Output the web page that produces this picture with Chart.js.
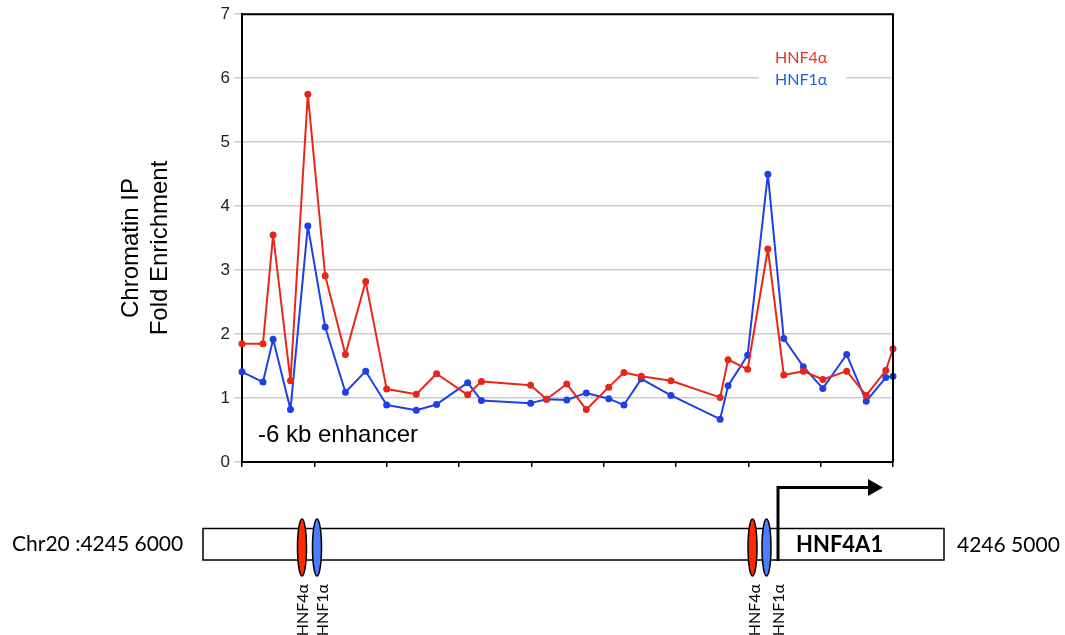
<!DOCTYPE html>
<html>
<head>
<meta charset="utf-8">
<script src="https://cdn.jsdelivr.net/npm/chart.js@4/dist/chart.umd.min.js"></script>
<style>
  html, body { margin: 0; padding: 0; background: #fff; }
  #wrap { width: 1065px; height: 635px; }
</style>
</head>
<body>
<div id="wrap"><canvas id="chipChart" width="1065" height="635"></canvas></div>
<script>
// amplicon positions along the scanned region (axis units, one tick per unit)
const positions = [0, 0.29, 0.43, 0.67, 0.91, 1.15, 1.43, 1.71, 2.0, 2.41, 2.69, 3.12, 3.31, 3.99, 4.21, 4.49,
                   4.76, 5.07, 5.28, 5.52, 5.93, 6.61, 6.72, 6.99, 7.27, 7.49, 7.76, 8.03, 8.36, 8.63, 8.90, 9.0];
// fold enrichment, HNF4alpha ChIP
const hnf4a = [1.85, 1.85, 3.55, 1.27, 5.75, 2.91, 1.68, 2.82, 1.14, 1.06, 1.38, 1.05, 1.26, 1.20, 0.98, 1.22,
               0.82, 1.17, 1.40, 1.34, 1.27, 1.01, 1.60, 1.45, 3.33, 1.36, 1.42, 1.29, 1.42, 1.04, 1.43, 1.77];
// fold enrichment, HNF1alpha ChIP
const hnf1a = [1.41, 1.25, 1.92, 0.82, 3.69, 2.11, 1.09, 1.42, 0.89, 0.81, 0.90, 1.24, 0.96, 0.92, 0.98, 0.97,
               1.08, 0.99, 0.89, 1.30, 1.04, 0.67, 1.19, 1.67, 4.50, 1.93, 1.49, 1.15, 1.68, 0.95, 1.32, 1.34];
const yMin = 0, yMax = 7;
const xTicks = [0, 1, 2, 3, 4, 5, 6, 7, 8, 9];

const RED = '#e8261a';
const BLUE = '#1f40e6';

function toPoints(vals) {
    return vals.map((v, i) => ({ x: positions[i], y: v }));
}

// extra drawing: frame, legend, titles and the locus diagram underneath
const decor = {
    id: 'decor',
    beforeDatasetsDraw(chart) {
        const ctx = chart.ctx;
        const y6 = chart.scales.y.getPixelForValue(6);
        ctx.save();
        ctx.fillStyle = '#fff';
        ctx.fillRect(759, y6 - 4, 87, 8);
        ctx.restore();
    },
    afterDraw(chart) {
        const ctx = chart.ctx;
        const a = chart.chartArea;
        ctx.save();

        // top and right frame
        ctx.strokeStyle = '#000';
        ctx.lineWidth = 2;
        ctx.beginPath();
        ctx.moveTo(a.left, a.top);
        ctx.lineTo(a.right, a.top);
        ctx.lineTo(a.right, a.bottom);
        ctx.stroke();

        // legend
        ctx.font = '16px Lato';
        ctx.textAlign = 'left';
        ctx.textBaseline = 'alphabetic';
        ctx.fillStyle = '#e8321e';
        ctx.fillText('HNF4\u03b1', 775, 63);
        ctx.fillStyle = '#1e5ee8';
        ctx.fillText('HNF1\u03b1', 775, 85);

        // enhancer label
        ctx.fillStyle = '#000';
        ctx.font = '24px "Liberation Sans"';
        ctx.fillText('-6 kb enhancer', 258, 442);

        // y axis title
        ctx.save();
        ctx.translate(138, 248);
        ctx.rotate(-Math.PI / 2);
        ctx.textAlign = 'center';
        ctx.fillText('Chromatin IP', 0, 0);
        ctx.restore();
        ctx.save();
        ctx.translate(167, 248);
        ctx.rotate(-Math.PI / 2);
        ctx.textAlign = 'center';
        ctx.fillText('Fold Enrichment', 0, 0);
        ctx.restore();

        // locus diagram
        ctx.fillStyle = '#fff';
        ctx.fillRect(203, 528.5, 741, 31.5);
        ctx.strokeStyle = '#000';
        ctx.lineWidth = 1.5;
        ctx.strokeRect(203, 528.5, 741, 31.5);

        const sites = [
            { x: 302, fill: '#ff2a00', label: 'HNF4\u03b1', lx: 308 },
            { x: 317, fill: '#4d7cff', label: 'HNF1\u03b1', lx: 328 },
            { x: 752.5, fill: '#ff2a00', label: 'HNF4\u03b1', lx: 760 },
            { x: 766.5, fill: '#4d7cff', label: 'HNF1\u03b1', lx: 784 }
        ];
        sites.forEach(s => {
            ctx.beginPath();
            ctx.ellipse(s.x, 547.5, 4.5, 28.5, 0, 0, Math.PI * 2);
            ctx.fillStyle = s.fill;
            ctx.fill();
            ctx.lineWidth = 1.5;
            ctx.strokeStyle = '#000';
            ctx.stroke();

            ctx.save();
            ctx.translate(s.lx, 584);
            ctx.rotate(-Math.PI / 2);
            ctx.font = '16px Lato';
            ctx.fillStyle = '#000';
            ctx.textAlign = 'right';
            ctx.fillText(s.label, 0, 0);
            ctx.restore();
        });

        // transcription start arrow
        ctx.strokeStyle = '#000';
        ctx.lineWidth = 3;
        ctx.beginPath();
        ctx.moveTo(778, 561);
        ctx.lineTo(778, 487.5);
        ctx.lineTo(870, 487.5);
        ctx.stroke();
        ctx.fillStyle = '#000';
        ctx.beginPath();
        ctx.moveTo(868, 479);
        ctx.lineTo(883, 487.5);
        ctx.lineTo(868, 496);
        ctx.closePath();
        ctx.fill();

        ctx.fillStyle = '#000';
        ctx.textAlign = 'left';
        ctx.font = '21px Lato';
        ctx.fillText('Chr20 :4245 6000', 12, 551);
        ctx.fillText('4246 5000', 957, 552);
        ctx.font = 'bold 22px Lato';
        ctx.fillText('HNF4A1', 796, 552);

        ctx.restore();
    }
};

const ctx = document.getElementById('chipChart').getContext('2d');
new Chart(ctx, {
    type: 'line',
    data: {
        datasets: [{
            label: 'HNF4\u03b1',
            data: toPoints(hnf4a),
            borderColor: RED,
            backgroundColor: RED,
            borderWidth: 2,
            borderJoinStyle: 'round',
            pointRadius: 2.5,
            pointHoverRadius: 2.5,
            tension: 0,
            clip: 4
        }, {
            label: 'HNF1\u03b1',
            data: toPoints(hnf1a),
            borderColor: BLUE,
            backgroundColor: BLUE,
            borderWidth: 2,
            borderJoinStyle: 'round',
            pointRadius: 2.5,
            pointHoverRadius: 2.5,
            tension: 0,
            clip: 4
        }]
    },
    options: {
        responsive: false,
        animation: false,
        devicePixelRatio: 1,
        layout: { padding: { top: 11, right: 172, bottom: 0, left: 0 } },
        plugins: {
            legend: { display: false },
            tooltip: { enabled: false }
        },
        scales: {
            x: {
                type: 'linear',
                min: xTicks[0],
                max: xTicks[xTicks.length - 1],
                afterBuildTicks: s => { s.ticks = xTicks.map(v => ({ value: v })); },
                ticks: { callback: () => '' },
                grid: { drawOnChartArea: false, drawTicks: true, tickLength: 5, color: '#000', lineWidth: 1.5 },
                border: { color: '#000', width: 2 },
                afterFit: s => { s.height = 173; }
            },
            y: {
                min: yMin,
                max: yMax,
                ticks: { stepSize: 1, color: '#222', font: { family: '"Liberation Sans"', size: 17 }, padding: 4 },
                grid: { color: '#cccccc', lineWidth: 1.5, tickLength: 8 },
                border: { color: '#000', width: 2 },
                afterFit: s => { s.width = 242; }
            }
        }
    },
    plugins: [decor]
});
</script>
</body>
</html>
